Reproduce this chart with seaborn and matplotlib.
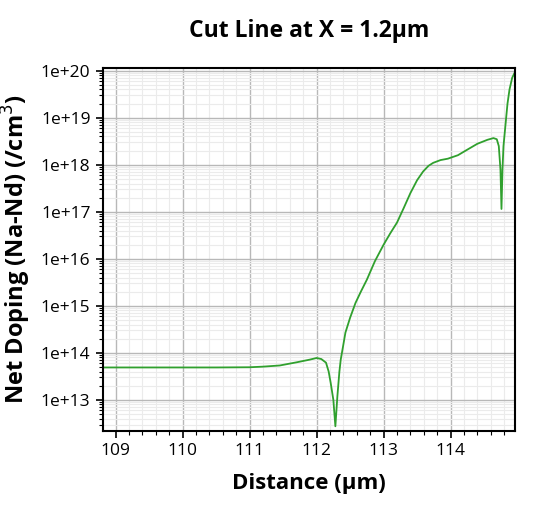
import numpy as np
import pandas as pd
import matplotlib
matplotlib.use("Agg")
import matplotlib.pyplot as plt
import matplotlib.ticker as mticker
import seaborn as sns

# distance along the cut line (um) and net doping (/cm^3)
distance = [108.8, 109.5, 110.0, 110.5, 111.0, 111.2, 111.45, 111.7, 111.9,
            112.0, 112.07, 112.14, 112.18, 112.21, 112.25, 112.28, 112.31,
            112.34, 112.36, 112.39, 112.43, 112.5, 112.58, 112.66, 112.75,
            112.87, 113.0, 113.1, 113.2, 113.3, 113.4, 113.5, 113.59, 113.67,
            113.74, 113.85, 113.96, 114.11, 114.25, 114.4, 114.55, 114.64,
            114.69, 114.72, 114.745, 114.76, 114.775, 114.79, 114.82, 114.85,
            114.88, 114.92, 114.96]
doping = [4.9e13, 4.9e13, 4.9e13, 4.9e13, 4.95e13, 5.1e13, 5.4e13, 6.3e13, 7.2e13,
          7.8e13, 7.4e13, 6.2e13, 4.0e13, 2.3e13, 1.0e13, 2.75e12, 1.2e13,
          4.0e13, 7.2e13, 1.26e14, 2.7e14, 5.6e14, 1.15e15, 2.0e15, 3.6e15,
          8.9e15, 2.0e16, 3.5e16, 5.9e16, 1.2e17, 2.5e17, 4.7e17, 7.2e17, 9.5e17,
          1.1e18, 1.26e18, 1.35e18, 1.6e18, 2.1e18, 2.8e18, 3.4e18, 3.7e18,
          3.5e18, 2.5e18, 7.9e17, 1.15e17, 7.9e17, 2.5e18, 7.1e18, 2.0e19,
          4.0e19, 7.1e19, 9.3e19]

df = pd.DataFrame({"Distance": distance, "Doping": doping})

sns.set_style("white")
plt.rcParams["font.family"] = ["Open Sans", "DejaVu Sans"]
plt.rcParams["text.color"] = "black"
plt.rcParams["axes.labelcolor"] = "black"

fig = plt.figure(figsize=(5.38, 5.07), dpi=100)
ax = fig.add_axes([0.1914, 0.150, 0.7656, 0.716])

sns.lineplot(data=df, x="Distance", y="Doping", color="#30a02e", linewidth=1.3,
             estimator=None, ax=ax)

ax.set_yscale("log")
ax.set_xlim(108.81, 114.96)
ax.set_ylim(10**12.34, 10**20.06)

ax.xaxis.set_major_locator(mticker.MultipleLocator(1))
ax.xaxis.set_minor_locator(mticker.MultipleLocator(0.2))
ax.yaxis.set_major_locator(mticker.LogLocator(base=10, numticks=20))
ax.yaxis.set_minor_locator(mticker.LogLocator(base=10, subs=np.arange(2, 10), numticks=20))
ax.yaxis.set_minor_formatter(mticker.NullFormatter())
ax.yaxis.set_major_formatter(mticker.FuncFormatter(lambda v, p: "1e+%d" % round(np.log10(v))))

ax.grid(which="major", color="#b8b8b8", linewidth=1.0)
ax.grid(which="minor", color="#ebebeb", linewidth=0.8)
ax.set_axisbelow(True)

for s in ax.spines.values():
    s.set_color("black")
    s.set_linewidth(1.5)

ax.tick_params(which="both", bottom=True, left=True, top=False, right=False)
ax.tick_params(which="major", direction="out", length=5, width=1.2, labelsize=12.5,
               colors="black", pad=4)
ax.tick_params(which="minor", direction="out", length=3, width=0.8, colors="black")

ax.set_xlabel("Distance (µm)", fontsize=16, fontweight="bold", labelpad=10)
ax.set_ylabel("Net Doping (Na-Nd) (/cm$^3$)", fontsize=17, fontweight="bold", labelpad=6)
ax.set_title("Cut Line at X = 1.2µm", fontsize=16.5, fontweight="bold", pad=22)

fig.savefig("out.png", dpi=100)
